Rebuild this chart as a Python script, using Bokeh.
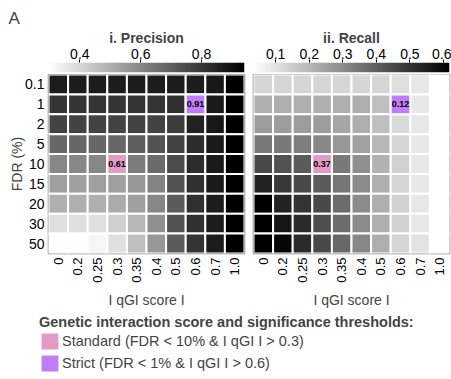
import numpy as np
from bokeh.plotting import figure
from bokeh.models import (LinearColorMapper, ColumnDataSource, FactorRange, Range1d,
                          Title, Legend, LegendItem)
from bokeh.layouts import column, row
from bokeh.palettes import Greys256
from bokeh.embed import file_html
from bokeh.resources import INLINE

FONT = "Liberation Sans"

# ---------------- data ----------------
FDR = ["0.1", "1", "2", "5", "10", "15", "20", "30", "50"]
QGI = ["0", "0.2", "0.25", "0.3", "0.35", "0.4", "0.5", "0.6", "0.7", "1.0"]

precision = [
    [0.87, 0.87, 0.87, 0.87, 0.87, 0.87, 0.87, 0.87, 0.88, 0.94],   # 0.1
    [0.81, 0.81, 0.81, 0.81, 0.81, 0.81, 0.82, 0.91, 0.875, 0.94],  # 1
    [0.77, 0.77, 0.77, 0.77, 0.77, 0.77, 0.79, 0.855, 0.88, 0.94],  # 2
    [0.68, 0.68, 0.68, 0.68, 0.70, 0.73, 0.77, 0.83, 0.875, 0.94],  # 5
    [0.60, 0.60, 0.60, 0.61, 0.63, 0.67, 0.75, 0.83, 0.875, 0.94],  # 10
    [0.54, 0.54, 0.54, 0.54, 0.56, 0.61, 0.73, 0.82, 0.875, 0.94],  # 15
    [0.50, 0.50, 0.50, 0.51, 0.54, 0.60, 0.71, 0.82, 0.87, 0.94],   # 20
    [0.38, 0.38, 0.38, 0.42, 0.48, 0.58, 0.73, 0.82, 0.87, 0.94],   # 30
    [0.30, 0.30, 0.32, 0.38, 0.46, 0.56, 0.71, 0.81, 0.87, 0.94],   # 50
]

recall = [
    [0.13, 0.13, 0.13, 0.13, 0.13, 0.13, 0.13, 0.11, 0.09, 0.02],   # 0.1
    [0.22, 0.22, 0.22, 0.22, 0.22, 0.22, 0.18, 0.12, 0.09, 0.02],   # 1
    [0.26, 0.26, 0.26, 0.26, 0.24, 0.22, 0.18, 0.12, 0.09, 0.02],   # 2
    [0.34, 0.34, 0.33, 0.31, 0.27, 0.25, 0.20, 0.13, 0.09, 0.02],   # 5
    [0.45, 0.43, 0.41, 0.37, 0.34, 0.29, 0.21, 0.14, 0.09, 0.02],   # 10
    [0.54, 0.49, 0.45, 0.41, 0.35, 0.30, 0.22, 0.13, 0.09, 0.02],   # 15
    [0.62, 0.54, 0.50, 0.45, 0.37, 0.30, 0.22, 0.14, 0.09, 0.02],   # 20
    [0.62, 0.57, 0.52, 0.44, 0.37, 0.30, 0.22, 0.14, 0.09, 0.02],   # 30
    [0.62, 0.60, 0.52, 0.45, 0.38, 0.31, 0.22, 0.13, 0.10, 0.02],   # 50
]

# highlighted thresholds
standard_fdr, standard_qgi = "10", "0.3"
strict_fdr, strict_qgi = "1", "0.6"
standard_label = "Standard (FDR < 10% & I qGI I > 0.3)"
strict_label = "Strict (FDR < 1% & I qGI I > 0.6)"
legend_title = "Genetic interaction score and significance thresholds:"

PINK = "#e49ac6"
PURPLE = "#bf7ef8"

prec_range = (0.297, 0.941)
prec_ticks = [0.4, 0.6, 0.8]
rec_range = (0.034, 0.618)
rec_ticks = [0.1, 0.2, 0.3, 0.4, 0.5, 0.6]

palette = list(reversed(Greys256))  # white (low) -> black (high)


def cell_source(mat):
    xs, ys, vs = [], [], []
    for i, f in enumerate(FDR):
        for j, q in enumerate(QGI):
            xs.append(q)
            ys.append(f)
            vs.append(mat[i][j])
    return ColumnDataSource(dict(q=xs, f=ys, v=vs))


def lookup(mat, f, q):
    return mat[FDR.index(f)][QGI.index(q)]


def colorbar_fig(mapper, rng, ticks, title, width, left, right, title_offset, panel=None):
    lo, hi = rng
    p = figure(width=width, height=74, x_range=Range1d(lo, hi), y_range=Range1d(0, 1),
               x_axis_location="above", y_axis_location=None, toolbar_location=None,
               output_backend="svg", min_border_left=left, min_border_right=right,
               min_border_top=62, min_border_bottom=2)
    grad = np.linspace(lo, hi, 256).reshape(1, 256)
    p.image(image=[grad], x=lo, y=0, dw=hi - lo, dh=1, color_mapper=mapper)
    p.grid.visible = False
    p.outline_line_color = None
    ax = p.xaxis[0]
    ax.ticker = ticks
    ax.axis_line_color = None
    ax.major_tick_out = 3
    ax.major_tick_in = 0
    ax.minor_tick_line_color = None
    ax.major_label_standoff = 1
    ax.major_label_text_font = FONT
    ax.major_label_text_font_size = "14px"
    ax.major_label_text_color = "black"
    p.add_layout(Title(text=title, align="center", offset=title_offset, standoff=0,
                       text_font=FONT, text_font_size="14px", text_font_style="bold"),
                 "above")
    if panel:
        p.add_layout(Title(text=panel, align="left", offset=-40, standoff=0,
                           text_font=FONT, text_font_size="17px",
                           text_font_style="normal"), "above")
    return p


def heat_fig(mat, mapper, width, left, right, show_y):
    p = figure(width=width, height=236, x_range=FactorRange(*QGI),
               y_range=FactorRange(*reversed(FDR)), toolbar_location=None,
               output_backend="svg", min_border_left=left, min_border_right=right,
               min_border_top=0, min_border_bottom=55,
               y_axis_location="left" if show_y else None)
    p.rect(x="q", y="f", width=1, height=1, source=cell_source(mat),
           fill_color={"field": "v", "transform": mapper},
           line_color="white", line_width=2)
    hl = ColumnDataSource(dict(
        q=[standard_qgi, strict_qgi], f=[standard_fdr, strict_fdr],
        c=[PINK, PURPLE],
        t=["%.2f" % lookup(mat, standard_fdr, standard_qgi),
           "%.2f" % lookup(mat, strict_fdr, strict_qgi)]))
    p.rect(x="q", y="f", width=1, height=1, source=hl, fill_color="c",
           line_color="white", line_width=2)
    p.text(x="q", y="f", text="t", source=hl, text_align="center",
           text_baseline="middle", text_font_size="9px", text_font_style="bold",
           text_color="black", text_font={"value": FONT})
    p.grid.visible = False
    p.outline_line_color = "#808080"
    p.outline_line_width = 1.5
    xa = p.xaxis[0]
    xa.axis_line_color = None
    xa.major_tick_line_color = None
    xa.major_tick_out = 0
    xa.major_tick_in = 0
    xa.minor_tick_line_color = None
    xa.major_label_orientation = np.pi / 2
    xa.major_label_standoff = 4
    xa.major_label_text_font = FONT
    xa.major_label_text_font_size = "13px"
    xa.major_label_text_color = "black"
    xa.axis_label = "I qGI score I"
    xa.axis_label_text_font = FONT
    xa.axis_label_text_font_size = "14px"
    xa.axis_label_text_font_style = "normal"
    xa.axis_label_standoff = 6
    if show_y:
        ya = p.yaxis[0]
        ya.axis_line_color = None
        ya.major_tick_line_color = None
        ya.major_tick_out = 0
        ya.major_tick_in = 0
        ya.minor_tick_line_color = None
        ya.major_label_standoff = 4
        ya.major_label_text_font = FONT
        ya.major_label_text_font_size = "14px"
        ya.major_label_text_color = "black"
        ya.axis_label = "FDR (%)"
        ya.axis_label_text_font = FONT
        ya.axis_label_text_font_size = "14px"
        ya.axis_label_text_font_style = "normal"
        ya.axis_label_standoff = -3
    return p


prec_mapper = LinearColorMapper(palette=palette, low=prec_range[0], high=prec_range[1])
rec_mapper = LinearColorMapper(palette=palette, low=rec_range[0], high=rec_range[1])

cb1 = colorbar_fig(prec_mapper, prec_range, prec_ticks, "i. Precision", 249, 48, 5, -8, "A")
cb2 = colorbar_fig(rec_mapper, rec_range, rec_ticks, "ii. Recall", 202, 4, 2, 0)

hm1 = heat_fig(precision, prec_mapper, 249, 48, 5, True)
hm2 = heat_fig(recall, rec_mapper, 202, 4, 2, False)

# legend panel
leg = figure(width=451, height=69, toolbar_location=None, output_backend="svg",
             min_border_left=39, min_border_right=0, min_border_top=4, min_border_bottom=0,
             x_axis_location=None, y_axis_location=None, x_range=Range1d(0, 1),
             y_range=Range1d(0, 1))
leg.grid.visible = False
leg.outline_line_color = None
r1 = leg.rect(x=[0], y=[0], width=0, height=0, fill_color=PINK, line_color=None)
r2 = leg.rect(x=[0], y=[0], width=0, height=0, fill_color=PURPLE, line_color=None)
legend = Legend(items=[LegendItem(label=standard_label, renderers=[r1]),
                       LegendItem(label=strict_label, renderers=[r2])],
                title=legend_title, location="top_left",
                title_text_font=FONT, title_text_font_size="14.5px",
                title_text_font_style="bold", label_text_font=FONT,
                label_text_font_size="14.5px", glyph_width=21, glyph_height=20,
                label_height=20, spacing=2, padding=6, margin=0,
                border_line_color=None, background_fill_alpha=0,
                label_standoff=2, title_standoff=1)
leg.add_layout(legend)

layout = column(row(column(cb1, hm1), column(cb2, hm2)), leg)

open("out.html", "w").write(file_html(layout, INLINE))
